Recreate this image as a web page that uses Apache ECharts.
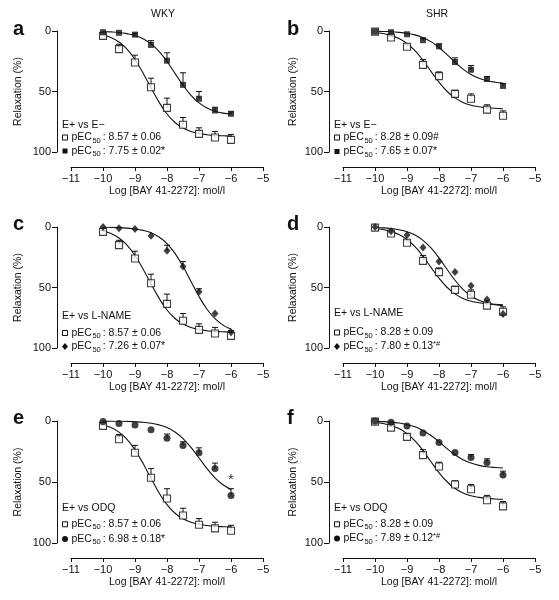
<!DOCTYPE html>
<html>
<head>
<meta charset="utf-8">
<script src="https://cdn.jsdelivr.net/npm/echarts@6/dist/echarts.min.js"></script>
<style>html,body{margin:0;padding:0;background:#fff}#c{width:559px;height:600px}</style>
</head>
<body>
<div id="c"></div>
<script>
// ---------- data ----------
const doseLog = [-10, -9.5, -9, -8.5, -8, -7.5, -7, -6.5, -6];
const curveLog = [-10, -9.75, -9.5, -9.25, -9, -8.75, -8.5, -8.25, -8, -7.75, -7.5, -7.25, -7, -6.75, -6.5, -6.25, -6];

const xTicks = [-11, -10, -9, -8, -7, -6, -5];
const yTicks = [0, 50, 100];

// WKY
const wkyEplus      = [4, 15, 26, 46.5, 63.5, 77.5, 85, 88, 90];
const wkyEplusErr   = [1, 4, 6, 7.5, 8, 6, 5, 5, 4.5];
const wkyEplusFit   = [3.1, 5.4, 9.1, 15.0, 23.6, 34.7, 47.0, 58.8, 68.6, 75.6, 80.2, 83.0, 84.7, 85.7, 86.3, 86.6, 86.8];
const wkyEminus     = [1, 1.5, 3, 11.5, 24.5, 44.5, 56, 65.7, 68.4];
const wkyEminusErr  = [0, 0, 1, 3.5, 6.5, 10, 6, 2.7, 1.5];
const wkyEminusFit  = [0.4, 0.7, 1.2, 2.2, 3.7, 6.4, 10.6, 16.8, 25.2, 35.0, 44.8, 53.2, 59.4, 63.6, 66.3, 67.9, 68.8];
const wkyLname      = [0, 1, 1.6, 7.3, 19.6, 32.6, 53.5, 71.5, 87];
const wkyLnameErr   = [0, 0, 0, 0, 4.6, 4, 2.5, 0, 0];
const wkyLnameFit   = [0.2, 0.3, 0.5, 0.9, 1.6, 2.8, 4.8, 8.3, 13.7, 21.8, 32.5, 45.0, 57.4, 68.0, 75.8, 81.1, 84.4];
const wkyOdq        = [0.5, 2, 3.2, 7.2, 14.2, 20, 26, 39, 61];
const wkyOdqErr     = [0, 0, 0, 0, 3.5, 3, 4, 4.5, 5.5];
const wkyOdqFit     = [0.1, 0.1, 0.2, 0.3, 0.6, 1.0, 1.8, 3.2, 5.4, 9.0, 14.4, 21.7, 30.3, 39.0, 46.6, 52.3, 56.1];

// SHR
const shrEplus      = [0.5, 5.4, 13, 28, 37.3, 52, 56, 65, 70];
const shrEplusErr   = [0, 1, 2, 4.5, 3.5, 3, 4, 4, 4];
const shrEplusFit   = [1.2, 2.1, 3.7, 6.2, 10.3, 16.3, 24.2, 33.4, 42.3, 49.8, 55.3, 59.0, 61.3, 62.6, 63.4, 63.9, 64.2];
const shrEminus     = [0.5, 1, 2.7, 7.6, 12.7, 25.7, 32, 39.7, 45.4];
const shrEminusErr  = [0, 0, 0, 1.5, 2, 3.5, 3.5, 2, 2];
const shrEminusFit  = [0.2, 0.4, 0.6, 1.1, 1.9, 3.2, 5.5, 8.8, 13.6, 19.5, 25.8, 31.5, 35.9, 39.1, 41.1, 42.3, 43.0];
const shrLname      = [0, 3.5, 6.7, 17, 28.6, 37.2, 48.5, 60, 72];
const shrLnameErr   = [0, 0, 0, 0, 0, 0, 0, 0, 0];
const shrLnameFit   = [0.4, 0.7, 1.3, 2.3, 3.9, 6.7, 11.0, 17.3, 25.5, 34.9, 44.0, 51.5, 57.0, 60.6, 62.9, 64.2, 65.0];
const shrOdq        = [0, 1, 4, 9.8, 17.7, 25.8, 30, 34, 44.3];
const shrOdqErr     = [0, 0, 0, 0, 0, 0, 2.5, 3, 3.2];
const shrOdqFit     = [0.3, 0.5, 0.9, 1.6, 2.8, 4.7, 7.7, 11.9, 17.0, 22.6, 27.7, 31.7, 34.5, 36.4, 37.5, 38.1, 38.5];

// annotation star (panel e, at -6)
const starPoint = [-6, 48];

const columnTitles = ['WKY', 'SHR'];
const panelLetters = ['a', 'b', 'c', 'd', 'e', 'f'];
const legendHeaders = ['E+ vs E\u2212', 'E+ vs E\u2212', 'E+ vs L-NAME', 'E+ vs L-NAME', 'E+ vs ODQ', 'E+ vs ODQ'];
const legendValues = [
  [['8.57 \u00b1 0.06', ''], ['7.75 \u00b1 0.02*', '']],
  [['8.28 \u00b1 0.09#', ''], ['7.65 \u00b1 0.07*', '']],
  [['8.57 \u00b1 0.06', ''], ['7.26 \u00b1 0.07*', '']],
  [['8.28 \u00b1 0.09', ''], ['7.80 \u00b1 0.13', '*#']],
  [['8.57 \u00b1 0.06', ''], ['6.98 \u00b1 0.18*', '']],
  [['8.28 \u00b1 0.09', ''], ['7.89 \u00b1 0.12', '*#']]
];

// ---------- layout / style ----------
const FONT = "'Liberation Sans', Arial, Helvetica, sans-serif";
const INK = '#111';
const colLeft = [71, 343];
const plotW = 192;
const rowTop = [31, 227, 421];
const plotH = [121, 121, 122];

const SYM = {
  open:    {symbol: 'rect', symbolSize: 7, itemStyle: {color: '#fff', borderColor: INK, borderWidth: 1.1}},
  square:  {symbol: 'rect', symbolSize: 6, itemStyle: {color: INK, borderWidth: 0}},
  diamond: {symbol: 'diamond', symbolSize: [7, 8], itemStyle: {color: INK, borderWidth: 0}},
  circle:  {symbol: 'circle', symbolSize: 7, itemStyle: {color: INK, borderWidth: 0}}
};

const panels = [
  {groups: [[wkyEplus, wkyEplusErr, wkyEplusFit, 'open'], [wkyEminus, wkyEminusErr, wkyEminusFit, 'square']]},
  {groups: [[shrEplus, shrEplusErr, shrEplusFit, 'open'], [shrEminus, shrEminusErr, shrEminusFit, 'square']]},
  {groups: [[wkyEplus, wkyEplusErr, wkyEplusFit, 'open'], [wkyLname, wkyLnameErr, wkyLnameFit, 'diamond']]},
  {groups: [[shrEplus, shrEplusErr, shrEplusFit, 'open'], [shrLname, shrLnameErr, shrLnameFit, 'diamond']]},
  {groups: [[wkyEplus, wkyEplusErr, wkyEplusFit, 'open'], [wkyOdq, wkyOdqErr, wkyOdqFit, 'circle']]},
  {groups: [[shrEplus, shrEplusErr, shrEplusFit, 'open'], [shrOdq, shrOdqErr, shrOdqFit, 'circle']]}
];

const grids = [], xAxes = [], yAxes = [], series = [], graphics = [];

function errRender(params, api) {
  const x = api.value(0), y = api.value(1), e = api.value(2);
  const p1 = api.coord([x, y]);
  const p2 = api.coord([x, y - e]);
  const st = {stroke: INK, lineWidth: 1};
  return {type: 'group', children: [
    {type: 'line', shape: {x1: p1[0], y1: p1[1], x2: p2[0], y2: p2[1]}, style: st},
    {type: 'line', shape: {x1: p2[0] - 3, y1: p2[1], x2: p2[0] + 3, y2: p2[1]}, style: st}
  ]};
}

panels.forEach((p, i) => {
  const col = i % 2, row = Math.floor(i / 2);
  grids.push({left: colLeft[col], top: rowTop[row], width: plotW, height: plotH[row], containLabel: false});
  xAxes.push({
    gridIndex: i, type: 'value', min: xTicks[0], max: xTicks[xTicks.length - 1], interval: 1,
    offset: 15,
    name: 'Log [BAY 41-2272]: mol/l', nameLocation: 'middle', nameGap: 19,
    nameTextStyle: {fontFamily: FONT, fontSize: 10.5, color: INK},
    axisLine: {show: true, onZero: false, lineStyle: {color: INK, width: 1}},
    axisTick: {show: true, length: 4, lineStyle: {color: INK, width: 1}},
    axisLabel: {fontFamily: FONT, fontSize: 11, color: INK, margin: 6,
      formatter: v => (v < 0 ? '\u2212' + Math.abs(v) : String(v))},
    splitLine: {show: false}
  });
  yAxes.push({
    gridIndex: i, type: 'value', min: yTicks[0], max: yTicks[yTicks.length - 1], interval: 50, inverse: true,
    offset: 14,
    name: 'Relaxation (%)', nameLocation: 'middle', nameRotate: 90, nameGap: col === 0 ? 33 : 30,
    nameTextStyle: {fontFamily: FONT, fontSize: 10.5, color: INK},
    axisLine: {show: true, onZero: false, lineStyle: {color: INK, width: 1}},
    axisTick: {show: true, length: 5, lineStyle: {color: INK, width: 1}},
    axisLabel: {fontFamily: FONT, fontSize: 11, color: INK, margin: 6},
    splitLine: {show: false}
  });

  p.groups.forEach((g, k) => {
    const [vals, errs, fit, sym] = g;
    series.push({
      type: 'line', xAxisIndex: i, yAxisIndex: i, z: 2,
      data: curveLog.map((x, j) => [x, fit[j]]),
      smooth: 0.4, showSymbol: false, symbol: 'none',
      lineStyle: {color: INK, width: 1.1}, silent: true, animation: false
    });
    series.push({
      type: 'custom', xAxisIndex: i, yAxisIndex: i, z: 3,
      renderItem: errRender,
      data: doseLog.map((x, j) => [x, vals[j], errs[j]]).filter(d => d[2] > 0),
      silent: true, animation: false
    });
    series.push(Object.assign({
      type: 'scatter', xAxisIndex: i, yAxisIndex: i, z: 4,
      data: doseLog.map((x, j) => [x, vals[j]]),
      silent: true, animation: false
    }, JSON.parse(JSON.stringify(SYM[sym]))));
  });
});

// star annotation in panel e
series.push({
  type: 'scatter', xAxisIndex: 4, yAxisIndex: 4, z: 5, symbolSize: 1,
  itemStyle: {color: 'rgba(0,0,0,0)'},
  data: [starPoint],
  label: {show: true, position: 'inside', formatter: '*', fontFamily: FONT, fontSize: 15, color: '#000'},
  silent: true, animation: false
});

// column titles
columnTitles.forEach((t, c) => {
  graphics.push({type: 'text', x: c === 0 ? 163 : 437, y: 14,
    style: {text: t, font: '10.5px ' + FONT, fill: INK, align: 'center', verticalAlign: 'middle'}});
});

// panel letters
const letterRowY = [29.5, 224.5, 418];
panelLetters.forEach((L, i) => {
  const col = i % 2, row = Math.floor(i / 2);
  graphics.push({type: 'text', x: col === 0 ? 13 : 287, y: letterRowY[row],
    style: {text: L, font: 'bold 20px ' + FONT, fill: INK, align: 'left', verticalAlign: 'middle'}});
});

// legends: y of header, row 1, row 2
const legendRows = [
  [125, 137.5, 151], [125, 137.5, 151.5],
  [316.5, 333, 346.5], [313, 332.5, 346.5],
  [508.5, 524.3, 539], [508.3, 524.3, 538.5]
];
panels.forEach((p, i) => {
  const col = i % 2;
  const hx = col === 0 ? 62 : 334;
  const ys = legendRows[i];
  graphics.push({type: 'text', x: hx, y: ys[0],
    style: {text: legendHeaders[i], font: '10.5px ' + FONT, fill: INK, align: 'left', verticalAlign: 'middle'}});
  p.groups.forEach((g, k) => {
    const sym = g[3];
    const y = ys[k + 1];
    const mx = hx + 3;
    if (sym === 'open') {
      graphics.push({type: 'rect', shape: {x: mx - 2.5, y: y - 2.5, width: 5, height: 5},
        style: {fill: '#fff', stroke: INK, lineWidth: 1}});
    } else if (sym === 'square') {
      graphics.push({type: 'rect', shape: {x: mx - 2.5, y: y - 2.5, width: 5, height: 5}, style: {fill: INK}});
    } else if (sym === 'diamond') {
      graphics.push({type: 'polygon', shape: {points: [[mx, y - 3.5], [mx + 3, y], [mx, y + 3.5], [mx - 3, y]]}, style: {fill: INK}});
    } else {
      graphics.push({type: 'circle', shape: {cx: mx, cy: y, r: 3}, style: {fill: INK}});
    }
    const [val, sup] = legendValues[i][k];
    graphics.push({type: 'text', x: hx + 9.5, y: y,
      style: {
        text: '{n|pEC}{s|50}{n|: ' + val + '}' + (sup ? '{u|' + sup + '}' : ''),
        fill: INK, align: 'left', verticalAlign: 'middle',
        rich: {
          n: {fontFamily: FONT, fontSize: 10.5, color: INK, lineHeight: 14, verticalAlign: 'middle'},
          s: {fontFamily: FONT, fontSize: 7.5, color: INK, lineHeight: 14, verticalAlign: 'bottom', padding: [0, 2, 0, 0.5]},
          u: {fontFamily: FONT, fontSize: 7.5, color: INK, lineHeight: 14, verticalAlign: 'top'}
        }
      }});
  });
});

const chart = echarts.init(document.getElementById('c'), null, {renderer: 'canvas'});
chart.setOption({
  backgroundColor: '#fff',
  animation: false,
  grid: grids,
  xAxis: xAxes,
  yAxis: yAxes,
  series: series,
  graphic: graphics
});
</script>
</body>
</html>
